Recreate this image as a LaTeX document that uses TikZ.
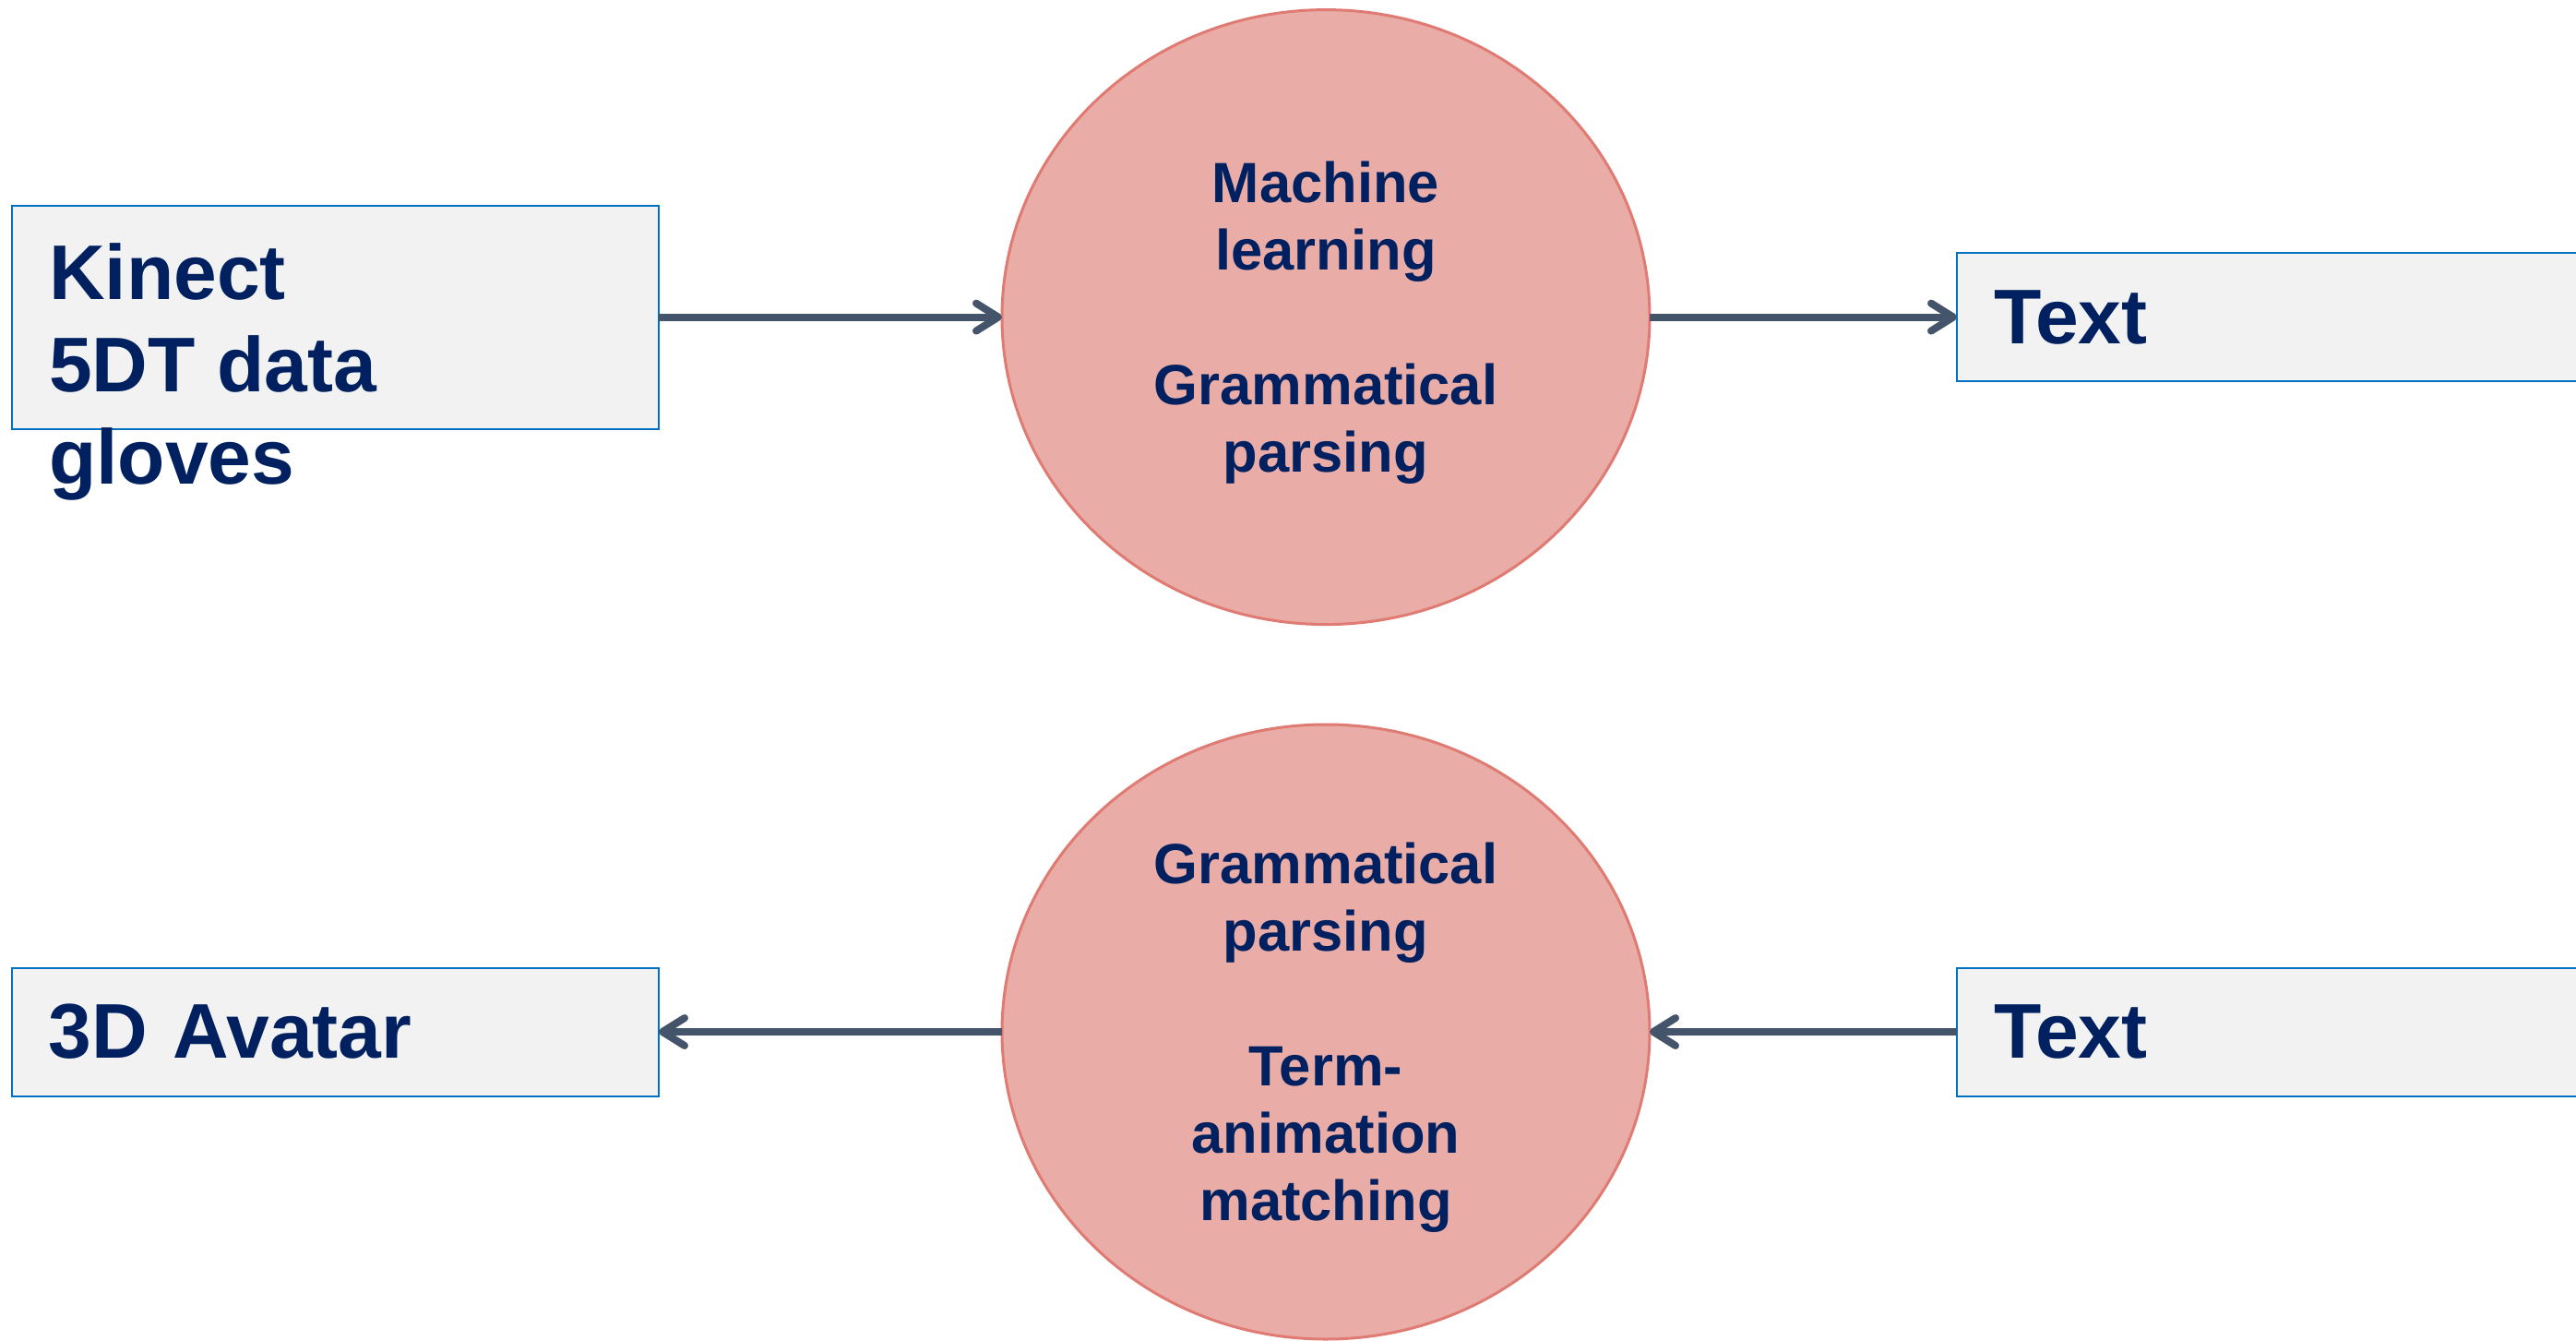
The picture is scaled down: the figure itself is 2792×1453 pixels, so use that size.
\documentclass[tikz,border=0pt]{standalone}
\usepackage{fontspec}
\setmainfont{Liberation Sans}
\usetikzlibrary{shapes.geometric,arrows.meta}
\definecolor{boxfill}{HTML}{F2F2F2}
\definecolor{boxline}{HTML}{0070C0}
\definecolor{circfill}{HTML}{E9ACA7}
\definecolor{circline}{HTML}{E07B73}
\definecolor{navy}{HTML}{002060}
\definecolor{conncol}{HTML}{44546A}
\newcommand{\toppad}{\rule{0pt}{57pt}}
\tikzset{
  box/.style={draw=boxline, line width=2pt, fill=boxfill, rectangle, inner sep=0pt, outer sep=0pt},
  bigtext/.style={text=navy, font=\bfseries\fontsize{84}{100}\selectfont},
  proc/.style={ellipse, draw=circline, line width=3pt, fill=circfill, inner sep=0pt, outer sep=0pt,
    minimum width=702pt, minimum height=666pt, align=center, text=navy,
    font=\bfseries\fontsize{61.5}{73}\selectfont},
  conn/.style={draw=conncol, line width=8pt, -{Straight Barb[length=24pt,width=30pt,round]}}
}
\begin{document}
\begin{tikzpicture}[x=1pt,y=-1pt]
\useasboundingbox (0,0) rectangle (2792,1453);
\clip (0,0) rectangle (2792,1453);
% boxes
\node[box, minimum width=701.5pt, minimum height=242pt] (kinect) at (363.25,343.6) {};
\node[bigtext, anchor=north west, inner sep=0pt, align=left] (kinecttxt) at (53,263) {Kinect\\5DT data\\gloves};
\node[box, bigtext, anchor=west, minimum width=700pt, minimum height=139pt, text width=620pt, inner xsep=39pt, align=left] (text1) at (2121,343.6) {Text};
\node[box, bigtext, anchor=east, minimum width=701.5pt, minimum height=139pt, text width=621.5pt, inner xsep=40pt, align=left] (avatar) at (714,1118) {3D Avatar};
\node[box, bigtext, anchor=west, minimum width=700pt, minimum height=139pt, text width=620pt, inner xsep=39pt, align=left] (text2) at (2121,1118) {Text};
% processes
\node[proc] (c1) at (1437,343.6) {\toppad Machine\\learning\\\mbox{}\\Grammatical\\parsing};
\node[proc] (c2) at (1437,1118) {\toppad Grammatical\\parsing\\\mbox{}\\Term-\\animation\\matching};
% connectors
\draw[conn] (kinect.east) -- (c1.west);
\draw[conn] (c1.east) -- (text1.west);
\draw[conn] (text2.west) -- (c2.east);
\draw[conn] (c2.west) -- (avatar.east);
\end{tikzpicture}
\end{document}
